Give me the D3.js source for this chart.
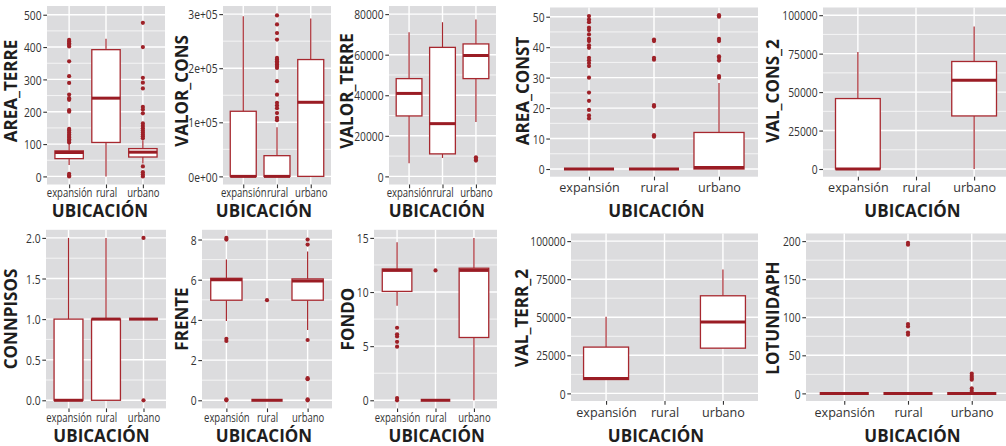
<!DOCTYPE html>
<html>
<head>
<meta charset="utf-8">
<script src="https://cdn.jsdelivr.net/npm/d3@7"></script>
<style>
  body { margin: 0; background: #fff; }
  svg { display: block; }
</style>
</head>
<body>
<svg id="chart" width="1006" height="446"></svg>
<script>
// ---- data -------------------------------------------------------------
const categories = ["expansión", "rural", "urbano"];
const xTitle = "UBICACIÓN";

// five-number summaries per category: [lower whisker, Q1, median, Q3, upper whisker]
const AREA_TERRE_stats = [[35, 55, 74, 79, 100], [0, 105, 242, 392, 426], [40, 60, 75, 86, 112]];
const AREA_TERRE_outliers = [
  [0, 3, 8, 105, 110, 115, 120, 125, 130, 136, 142, 147, 200, 205, 237, 242, 253, 289, 310, 356, 402, 407, 412, 417, 422],
  [],
  [0, 6, 13, 31, 118, 124, 130, 136, 142, 149, 156, 164, 195, 207, 215, 272, 290, 305, 400, 475]
];
const AREA_TERRE_ticks = [0, 100, 200, 300, 400, 500];

const VALOR_CONS_stats = [[0, 0, 0, 120400, 296000], [0, 0, 0, 38300, 90700], [0, 0, 137000, 216000, 292000]];
const VALOR_CONS_outliers = [
  [],
  [104000, 108000, 117000, 126000, 131000, 136000, 151000, 176000, 200600, 204000, 207000, 210000, 213000, 216000, 219000, 253000, 265000, 281000, 297500],
  []
];
const VALOR_CONS_ticks = [0, 100000, 200000, 300000];

const VALOR_TERRE_stats = [[6500, 29800, 40900, 48200, 71000], [9100, 11100, 26000, 63600, 76000], [26800, 48200, 59600, 65300, 77300]];
const VALOR_TERRE_outliers = [[], [], [7800, 8600, 9400]];
const VALOR_TERRE_ticks = [0, 20000, 40000, 60000, 80000];

const AREA_CONST_stats = [[0, 0, 0, 0, 0], [0, 0, 0, 0, 0], [0, 0, 0.5, 12, 28.2]];
const AREA_CONST_outliers = [
  [16.6, 17.6, 19.4, 22.4, 25.1, 30, 33.8, 34.8, 35.7, 36.5, 39.8, 40.6, 42, 42.7, 44.2, 45.6, 46.4, 48.2, 49.1, 50.2],
  [10.6, 11.1, 20.5, 21, 35.9, 36.5, 42, 42.5],
  [30, 30.5, 35.6, 36.5, 37, 42, 42.7, 50, 50.5]
];
const AREA_CONST_ticks = [0, 10, 20, 30, 40, 50];

const VAL_CONS_2_stats = [[0, 0, 0, 45800, 76100], null, [0, 34500, 57700, 69900, 92700]];
const VAL_CONS_2_outliers = [[], [], []];
const VAL_CONS_2_ticks = [0, 25000, 50000, 75000, 100000];

const CONNPISOS_stats = [[0, 0, 0, 1, 2], [0, 0, 1, 1, 2], [1, 1, 1, 1, 1]];
const CONNPISOS_outliers = [[], [], [0, 2]];
const CONNPISOS_ticks = [0, 0.5, 1, 1.5, 2];

const FRENTE_stats = [[3.95, 4.98, 6.0, 6.07, 7.0], [0, 0, 0, 0, 0], [3.5, 4.98, 5.94, 6.04, 7.4]];
const FRENTE_outliers = [
  [0, 0.05, 2.95, 3.06, 8, 8.08],
  [4.98],
  [0, 0.05, 1.05, 1.1, 3.0, 7.75, 8.0]
];
const FRENTE_ticks = [0, 2, 4, 6, 8];

const FONDO_stats = [[8.73, 10.06, 12.0, 12.13, 14.6], [0, 0, 0, 0, 0], [0, 5.8, 12.0, 12.2, 15.0]];
const FONDO_outliers = [[0, 0.2, 4.95, 5.4, 5.9, 6.1, 6.7], [12], []];
const FONDO_ticks = [0, 5, 10, 15];

const VAL_TERR_2_stats = [[9100, 9100, 9760, 30400, 50300], null, [29700, 29700, 46800, 64100, 81400]];
const VAL_TERR_2_outliers = [[], [], []];
const VAL_TERR_2_ticks = [0, 25000, 50000, 75000, 100000];

const LOTUNIDAPH_stats = [[0, 0, 0, 0, 0], [0, 0, 0, 0, 0], [0, 0, 0, 0, 0]];
const LOTUNIDAPH_outliers = [[], [77, 80, 88, 91, 195.2, 197.8], [3, 6.5, 18, 20.3, 23, 25.9]];
const LOTUNIDAPH_ticks = [0, 50, 100, 150, 200];

// ---- formats ------------------------------------------------------------
const fmtInt = d3.format("d");
const fmtOne = d3.format(".1f");
const fmtSci = d => {
  const [m, e] = d.toExponential(0).split("e");
  return m + "e" + e[0] + e.slice(1).padStart(2, "0");
};

// ---- layout ---------------------------------------------------------------
// two groups of panels: a narrow 3-column group on the left and a wide 2-column group on the right
const rows = {
  leftTop:     { y0: 6,     y1: 184.5, tickY: 12.6, titleY: 217,   yTitleY: 91,  xs: 0.73, xf: 13 },
  leftBottom:  { y0: 229.8, y1: 408.4, tickY: 14,   titleY: 441.8, yTitleY: 319, xs: 0.73, xf: 13 },
  rightTop:    { y0: 7.5,   y1: 176.7, tickY: 15.6, titleY: 216.5, yTitleY: 91,  xs: 0.94, xf: 13.4 },
  rightBottom: { y0: 233.5, y1: 401,   tickY: 15.7, titleY: 441.8, yTitleY: 318, xs: 0.94, xf: 13.4 }
};

const panels = [
  { name: "AREA_TERRE",  stats: AREA_TERRE_stats,  out: AREA_TERRE_outliers,  ticks: AREA_TERRE_ticks,  fmt: fmtInt, lim: [-25, 527],          row: "leftTop",     x0: 47,  x1: 165,  yT: 11,    xT: 100 },
  { name: "VALOR_CONS",  stats: VALOR_CONS_stats,  out: VALOR_CONS_outliers,  ticks: VALOR_CONS_ticks,  fmt: fmtSci, lim: [-15000, 315000],    row: "leftTop",     x0: 223, x1: 331,  yT: 181.5, xT: 264 },
  { name: "VALOR_TERRE", stats: VALOR_TERRE_stats, out: VALOR_TERRE_outliers, ticks: VALOR_TERRE_ticks, fmt: fmtInt, lim: [-4000, 84000],      row: "leftTop",     x0: 389, x1: 496,  yT: 347,   xT: 437 },
  { name: "AREA_CONST",  stats: AREA_CONST_stats,  out: AREA_CONST_outliers,  ticks: AREA_CONST_ticks,  fmt: fmtInt, lim: [-2.525, 53.025],    row: "rightTop",    x0: 550, x1: 758,  yT: 522.5, xT: 656.5 },
  { name: "VAL_CONS_2",  stats: VAL_CONS_2_stats,  out: VAL_CONS_2_outliers,  ticks: VAL_CONS_2_ticks,  fmt: fmtInt, lim: [-5000, 105000],     row: "rightTop",    x0: 823, x1: 1009, yT: 773,   xT: 912.5 },
  { name: "CONNPISOS",   stats: CONNPISOS_stats,   out: CONNPISOS_outliers,   ticks: CONNPISOS_ticks,   fmt: fmtOne, lim: [-0.1, 2.1],         row: "leftBottom",  x0: 46,  x1: 166,  yT: 11,    xT: 101.5 },
  { name: "FRENTE",      stats: FRENTE_stats,      out: FRENTE_outliers,      ticks: FRENTE_ticks,      fmt: fmtInt, lim: [-0.404, 8.484],     row: "leftBottom",  x0: 202, x1: 332,  yT: 181.5, xT: 264 },
  { name: "FONDO",       stats: FONDO_stats,       out: FONDO_outliers,       ticks: FONDO_ticks,       fmt: fmtInt, lim: [-0.75, 15.75],      row: "leftBottom",  x0: 374, x1: 497,  yT: 348,   xT: 436.7 },
  { name: "VAL_TERR_2",  stats: VAL_TERR_2_stats,  out: VAL_TERR_2_outliers,  ticks: VAL_TERR_2_ticks,  fmt: fmtInt, lim: [-5000, 105000],     row: "rightBottom", x0: 571, x1: 758,  yT: 521.5, xT: 656 },
  { name: "LOTUNIDAPH",  stats: LOTUNIDAPH_stats,  out: LOTUNIDAPH_outliers,  ticks: LOTUNIDAPH_ticks,  fmt: fmtInt, lim: [-10, 210],          row: "rightBottom", x0: 806, x1: 1010, yT: 773,   xT: 912.5 }
];

// ---- style ----------------------------------------------------------------
const PANEL_BG = "#DCDCDE";
const BOX_STROKE = "#A7282F";
const MEDIAN = "#9A1C24";
const POINT = "#9E2128";
const TICK_TEXT = "#333333";
const TITLE_TEXT = "#1E1E1E";
const FONT = "'Open Sans', 'Noto Sans', sans-serif";
const TICK_LEN = 3.7;
const Y_TICK_FONT = 13, Y_TICK_SCALE = 0.79;

const svg = d3.select("#chart");

panels.forEach(p => {
  const r = rows[p.row];
  const g = svg.append("g").attr("class", "panel " + p.name);

  const x = d3.scalePoint().domain(categories).range([p.x0, p.x1]).padding(0.6);
  const y = d3.scaleLinear().domain(p.lim).range([r.y1, r.y0]);
  const step = x.step();
  const bw = step * 0.77;

  // panel background
  g.append("rect")
    .attr("x", p.x0).attr("y", r.y0)
    .attr("width", p.x1 - p.x0).attr("height", r.y1 - r.y0)
    .attr("fill", PANEL_BG);

  // minor grid: midpoints between major breaks (and beyond, when inside the limits)
  const tstep = p.ticks[1] - p.ticks[0];
  const minors = [];
  for (let v = p.ticks[0] - tstep / 2; v <= p.lim[1]; v += tstep) {
    if (v >= p.lim[0]) minors.push(v);
  }
  g.selectAll("line.minor").data(minors).join("line")
    .attr("class", "minor")
    .attr("x1", p.x0).attr("x2", p.x1)
    .attr("y1", d => y(d)).attr("y2", d => y(d))
    .attr("stroke", "#fff").attr("stroke-width", 0.7);

  // major grid
  g.selectAll("line.majorY").data(p.ticks).join("line")
    .attr("class", "majorY")
    .attr("x1", p.x0).attr("x2", p.x1)
    .attr("y1", d => y(d)).attr("y2", d => y(d))
    .attr("stroke", "#fff").attr("stroke-width", 1.4);
  g.selectAll("line.majorX").data(categories).join("line")
    .attr("class", "majorX")
    .attr("x1", d => x(d)).attr("x2", d => x(d))
    .attr("y1", r.y0).attr("y2", r.y1)
    .attr("stroke", "#fff").attr("stroke-width", 1.4);

  // boxplots
  const boxes = categories.map((c, i) => ({ c, s: p.stats[i], o: p.out[i] }));

  boxes.forEach(b => {
    const cx = x(b.c);
    const bg = g.append("g");
    // outliers
    bg.selectAll("circle").data(b.o).join("circle")
      .attr("cx", cx).attr("cy", d => y(d)).attr("r", 2.1)
      .attr("fill", POINT);
    if (!b.s) return;
    const [lw, q1, med, q3, uw] = b.s;
    // whiskers
    bg.append("line")
      .attr("x1", cx).attr("x2", cx).attr("y1", y(q3)).attr("y2", y(uw))
      .attr("stroke", BOX_STROKE).attr("stroke-width", 1.2);
    bg.append("line")
      .attr("x1", cx).attr("x2", cx).attr("y1", y(q1)).attr("y2", y(lw))
      .attr("stroke", BOX_STROKE).attr("stroke-width", 1.2);
    // box
    bg.append("rect")
      .attr("x", cx - bw / 2).attr("width", bw)
      .attr("y", y(q3)).attr("height", Math.max(0, y(q1) - y(q3)))
      .attr("fill", "#fff")
      .attr("stroke", BOX_STROKE).attr("stroke-width", 1.3);
    // median
    bg.append("line")
      .attr("x1", cx - bw / 2).attr("x2", cx + bw / 2)
      .attr("y1", y(med)).attr("y2", y(med))
      .attr("stroke", MEDIAN).attr("stroke-width", 3);
  });

  // y axis
  const ya = g.append("g")
    .attr("transform", `translate(${p.x0},0)`)
    .call(d3.axisLeft(y).tickValues(p.ticks).tickFormat(p.fmt).tickSize(TICK_LEN).tickPadding(0));
  ya.select(".domain").remove();
  ya.selectAll(".tick line").attr("stroke", "#333").attr("stroke-width", 1.1);
  ya.selectAll(".tick text")
    .attr("x", -(TICK_LEN + 1.8) / Y_TICK_SCALE)
    .attr("dy", "0.36em")
    .attr("transform", `scale(${Y_TICK_SCALE},1)`)
    .attr("fill", TICK_TEXT)
    .style("font-family", FONT)
    .style("font-size", Y_TICK_FONT + "px");

  // x axis
  const xa = g.append("g")
    .attr("transform", `translate(0,${r.y1})`)
    .call(d3.axisBottom(x).tickSize(TICK_LEN).tickPadding(0));
  xa.select(".domain").remove();
  xa.selectAll(".tick line").attr("stroke", "#333").attr("stroke-width", 1.1);
  xa.selectAll(".tick text")
    .attr("y", r.tickY)
    .attr("dy", 0)
    .attr("transform", `scale(${r.xs},1)`)
    .attr("fill", TICK_TEXT)
    .style("font-family", FONT)
    .style("font-size", r.xf + "px");

  // axis titles
  g.append("text")
    .attr("x", p.xT).attr("y", r.titleY)
    .attr("text-anchor", "middle")
    .attr("fill", TITLE_TEXT)
    .style("font-family", FONT).style("font-weight", 700).style("font-size", "17px")
    .text(xTitle);
  g.append("text")
    .attr("transform", `translate(${p.yT + 6.1},${r.yTitleY}) rotate(-90)`)
    .attr("text-anchor", "middle")
    .attr("fill", TITLE_TEXT)
    .style("font-family", FONT).style("font-weight", 700).style("font-size", "17px")
    .text(p.name);
});
</script>
</body>
</html>
